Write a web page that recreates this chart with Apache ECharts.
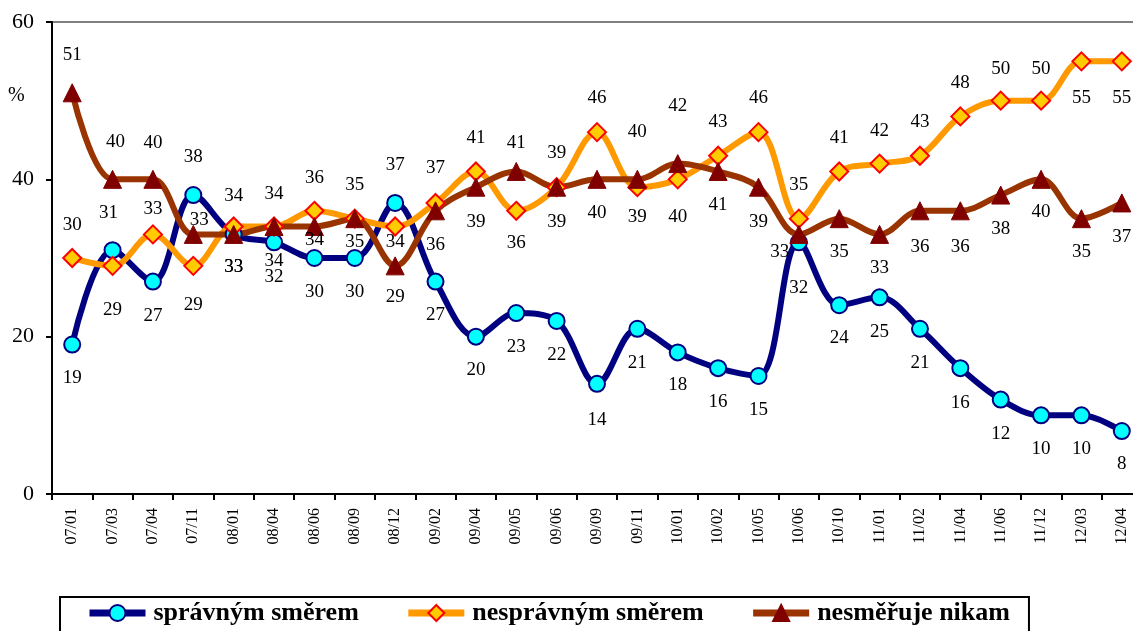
<!DOCTYPE html>
<html>
<head>
<meta charset="utf-8">
<script src="https://cdn.jsdelivr.net/npm/echarts@6/dist/echarts.min.js"></script>
<style>
  html, body { margin: 0; padding: 0; background: #fff; overflow: hidden; }
  #main { width: 1146px; height: 631px; }
</style>
</head>
<body>
<div id="main"></div>
<script>
var categories = ['07/01', '07/03', '07/04', '07/11', '08/01', '08/04', '08/06', '08/09', '08/12', '09/02', '09/04', '09/05', '09/06', '09/09', '09/11', '10/01', '10/02', '10/05', '10/06', '10/10', '11/01', '11/02', '11/04', '11/06', '11/12', '12/03', '12/04'];
var spravnym = [19, 31, 27, 38, 33, 32, 30, 30, 37, 27, 20, 23, 22, 14, 21, 18, 16, 15, 32, 24, 25, 21, 16, 12, 10, 10, 8];
var nespravnym = [30, 29, 33, 29, 34, 34, 36, 35, 34, 37, 41, 36, 39, 46, 39, 40, 43, 46, 35, 41, 42, 43, 48, 50, 50, 55, 55];
var nikam = [51, 40, 40, 33, 33, 34, 34, 35, 29, 36, 39, 41, 39, 40, 40, 42, 41, 39, 33, 35, 33, 36, 36, 38, 40, 35, 37];
var seriesNames = ['správným směrem', 'nesprávným směrem', 'nesměřuje nikam'];
var yTicks = [0, 20, 40, 60];

// posun popisku od bodu (px), zaporne = nad bodem
var dySpr = [33, -37, 34, -38, 33, 35, 34, 34, -38, 33, 33, 34, 34, 36, 34, 33, 34, 34, 46, 33, 35, 34, 35, 34, 34, 34, 33];
var dyNes = [-33, 44, -25, 39, -31, -33, -33, 23, 15, -35, -33, 32, -34, -34, 30, 38, -34, -34, -34, -33, -33, -34, -33, -32, -32, 37, 37];
var dyNik = [-38, -37, -36, -14, 33, 34, 13, -34, 31, 34, 35, -28, 35, 34, -47, -58, 34, 35, 18, 33, 34, 36, 36, 34, 33, 33, 34];
var dxSpr = { 1: -4 };
var dxNik = { 1: 3, 3: 6, 18: -19 };

var serif = 'Liberation Serif';

function withLabels(values, dy, dx) {
  return values.map(function (v, i) {
    return { value: v, label: { position: 'inside', offset: [dx[i] || 0, dy[i]] } };
  });
}

var labelBase = {
  show: true,
  fontFamily: serif,
  fontSize: 19,
  color: '#000'
};

var myChart = echarts.init(document.getElementById('main'));
var option = {
  backgroundColor: '#fff',
  animation: false,
  textStyle: { fontFamily: serif },
  grid: {
    left: 52,
    right: 4,
    top: 22,
    bottom: 137
  },
  graphic: [{
    type: 'text',
    left: 8,
    top: 86,
    style: { text: '%', fontFamily: serif, fontSize: 20, fill: '#000' }
  }],
  legend: {
    left: 60,
    top: 597,
    data: seriesNames,
    borderColor: '#000',
    borderWidth: 2,
    padding: [3, 19, 12, 26],
    itemGap: 46,
    itemWidth: 56,
    itemHeight: 20,
    lineStyle: { width: 7 },
    textStyle: { fontFamily: serif, fontSize: 26, fontWeight: 'bold', color: '#000', padding: [0, 0, 0, 3] }
  },
  xAxis: {
    type: 'category',
    data: categories,
    boundaryGap: true,
    axisLine: { lineStyle: { color: '#000', width: 2 } },
    axisTick: { show: true, length: 6, lineStyle: { color: '#000', width: 2 } },
    axisLabel: {
      rotate: 90,
      interval: 0,
      margin: 14,
      fontFamily: serif,
      fontSize: 16,
      color: '#000'
    }
  },
  yAxis: {
    type: 'value',
    min: yTicks[0],
    max: yTicks[yTicks.length - 1],
    interval: 20,
    axisLine: { show: true, lineStyle: { color: '#000', width: 2 } },
    axisTick: { show: true, length: 6, lineStyle: { color: '#000', width: 2 } },
    axisLabel: { margin: 18, fontFamily: serif, fontSize: 22, color: '#000' },
    splitLine: {
      show: true,
      lineStyle: { color: ['rgba(0,0,0,0)', 'rgba(0,0,0,0)', 'rgba(0,0,0,0)', '#808080'], width: 2 }
    }
  },
  series: [{
    name: seriesNames[0],
    type: 'line',
    smooth: 0.35,
    data: withLabels(spravnym, dySpr, dxSpr),
    symbol: 'circle',
    symbolSize: 16,
    lineStyle: { color: '#000080', width: 6 },
    itemStyle: { color: '#00FFFF', borderColor: '#000080', borderWidth: 2 },
    label: labelBase
  }, {
    name: seriesNames[1],
    type: 'line',
    smooth: 0.35,
    data: withLabels(nespravnym, dyNes, {}),
    symbol: 'diamond',
    symbolSize: 18,
    lineStyle: { color: '#FF9900', width: 6 },
    itemStyle: { color: '#FFCC00', borderColor: '#FF0000', borderWidth: 2 },
    label: labelBase
  }, {
    name: seriesNames[2],
    type: 'line',
    smooth: 0.35,
    data: withLabels(nikam, dyNik, dxNik),
    symbol: 'triangle',
    symbolSize: 18,
    lineStyle: { color: '#993300', width: 6 },
    itemStyle: { color: '#800000', borderColor: '#800000', borderWidth: 1 },
    label: labelBase
  }]
};
myChart.setOption(option);
</script>
</body>
</html>
